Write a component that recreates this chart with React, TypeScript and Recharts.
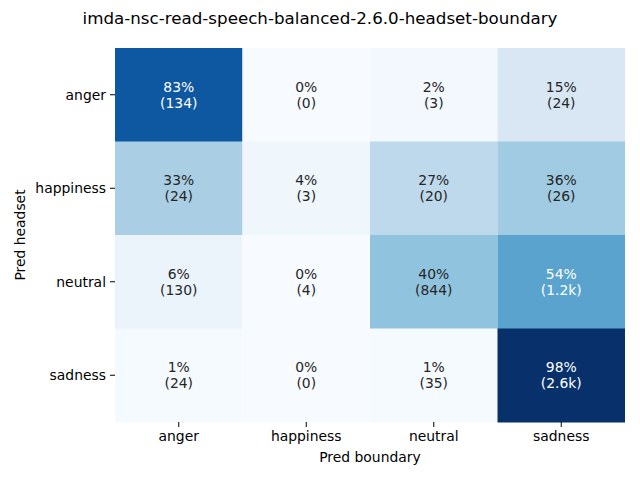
import { BarChart, Bar, Cell, XAxis, YAxis, LabelList, Label } from "recharts";

const title = "imda-nsc-read-speech-balanced-2.6.0-headset-boundary";
const rowNames = ["anger", "happiness", "neutral", "sadness"]; // Pred headset
const colNames = ["anger", "happiness", "neutral", "sadness"]; // Pred boundary

// row-normalised percentages
const percents = [
  [83, 0, 2, 15],
  [33, 4, 27, 36],
  [6, 0, 40, 54],
  [1, 0, 1, 98],
];

const counts = [
  ["134", "0", "3", "24"],
  ["24", "3", "20", "26"],
  ["130", "4", "844", "1.2k"],
  ["24", "0", "35", "2.6k"],
];

// matplotlib "Blues"
const BLUES = ["#f7fbff", "#deebf7", "#c6dbef", "#9ecae1", "#6baed6", "#4292c6", "#2171b5", "#08519c", "#08306b"];

const hexToRgb = (h: string) => [1, 3, 5].map((i) => parseInt(h.slice(i, i + 2), 16));

const blues = (v: number) => {
  const t = Math.max(0, Math.min(1, v / 98)) * (BLUES.length - 1);
  const i = Math.min(Math.floor(t), BLUES.length - 2);
  const f = t - i;
  const a = hexToRgb(BLUES[i]);
  const b = hexToRgb(BLUES[i + 1]);
  return `rgb(${a.map((c, k) => Math.round(c + (b[k] - c) * f)).join(",")})`;
};

const textColor = (v: number) => (v > 45 ? "#ffffff" : "#262626");

// each cell is one unit-wide stacked segment
const data = rowNames.map((name) => ({ name, c0: 1, c1: 1, c2: 1, c3: 1 }));

const FONT = "DejaVu Sans, sans-serif";

const makeLabel = (col: number) => (props: any) => {
  const { x, y, width, height, index } = props;
  const v = percents[index][col];
  const cx = x + width / 2;
  const cy = y + height / 2;
  return (
    <g>
      <text x={cx} y={cy - 8.5} textAnchor="middle" dominantBaseline="central" fill={textColor(v)} fontSize={13.9} fontFamily={FONT}>
        {`${v}%`}
      </text>
      <text x={cx} y={cy + 7.5} textAnchor="middle" dominantBaseline="central" fill={textColor(v)} fontSize={13.9} fontFamily={FONT}>
        {`(${counts[index][col]})`}
      </text>
    </g>
  );
};

const App = () => {
  return (
    <div style={{ position: "absolute", left: 0, top: 0, width: 640, height: 480, background: "#fff", fontFamily: FONT }}>
      <div style={{ position: "absolute", top: 8, width: 640, textAlign: "center", fontSize: 16.7, color: "#000" }}>{title}</div>
      <BarChart
        width={640}
        height={480}
        data={data}
        layout="vertical"
        margin={{ top: 48, right: 15, bottom: 0, left: 0 }}
        barCategoryGap={0}
      >
        <XAxis
          type="number"
          domain={[0, 4]}
          ticks={[0.5, 1.5, 2.5, 3.5]}
          tickFormatter={(v: number) => colNames[Math.floor(v)]}
          axisLine={false}
          tickLine={{ stroke: "#000" }}
          tickSize={5}
          tickMargin={4}
          height={58}
          tick={{ fill: "#000", fontSize: 13.9, fontFamily: FONT }}
        >
          <Label value="Pred boundary" position="insideBottom" offset={18} fill="#000" fontSize={13.9} fontFamily={FONT} />
        </XAxis>
        <YAxis
          type="category"
          dataKey="name"
          axisLine={false}
          tickLine={{ stroke: "#000" }}
          tickSize={5}
          tickMargin={4}
          width={115}
          tick={{ fill: "#000", fontSize: 13.9, fontFamily: FONT }}
        >
          <Label
            content={(p: any) => {
              const vb = p.viewBox;
              const cy = vb.y + vb.height / 2;
              return (
                <text x={20} y={cy} transform={`rotate(-90, 20, ${cy})`} textAnchor="middle" dominantBaseline="central" fill="#000" fontSize={13.9} fontFamily={FONT}>
                  Pred headset
                </text>
              );
            }}
          />
        </YAxis>
        {colNames.map((c, j) => (
          <Bar key={c} dataKey={`c${j}`} stackId="m" isAnimationActive={false}>
            {rowNames.map((r, i) => (
              <Cell key={r} fill={blues(percents[i][j])} />
            ))}
            <LabelList dataKey={`c${j}`} content={makeLabel(j)} />
          </Bar>
        ))}
      </BarChart>
    </div>
  );
};

export default App;
